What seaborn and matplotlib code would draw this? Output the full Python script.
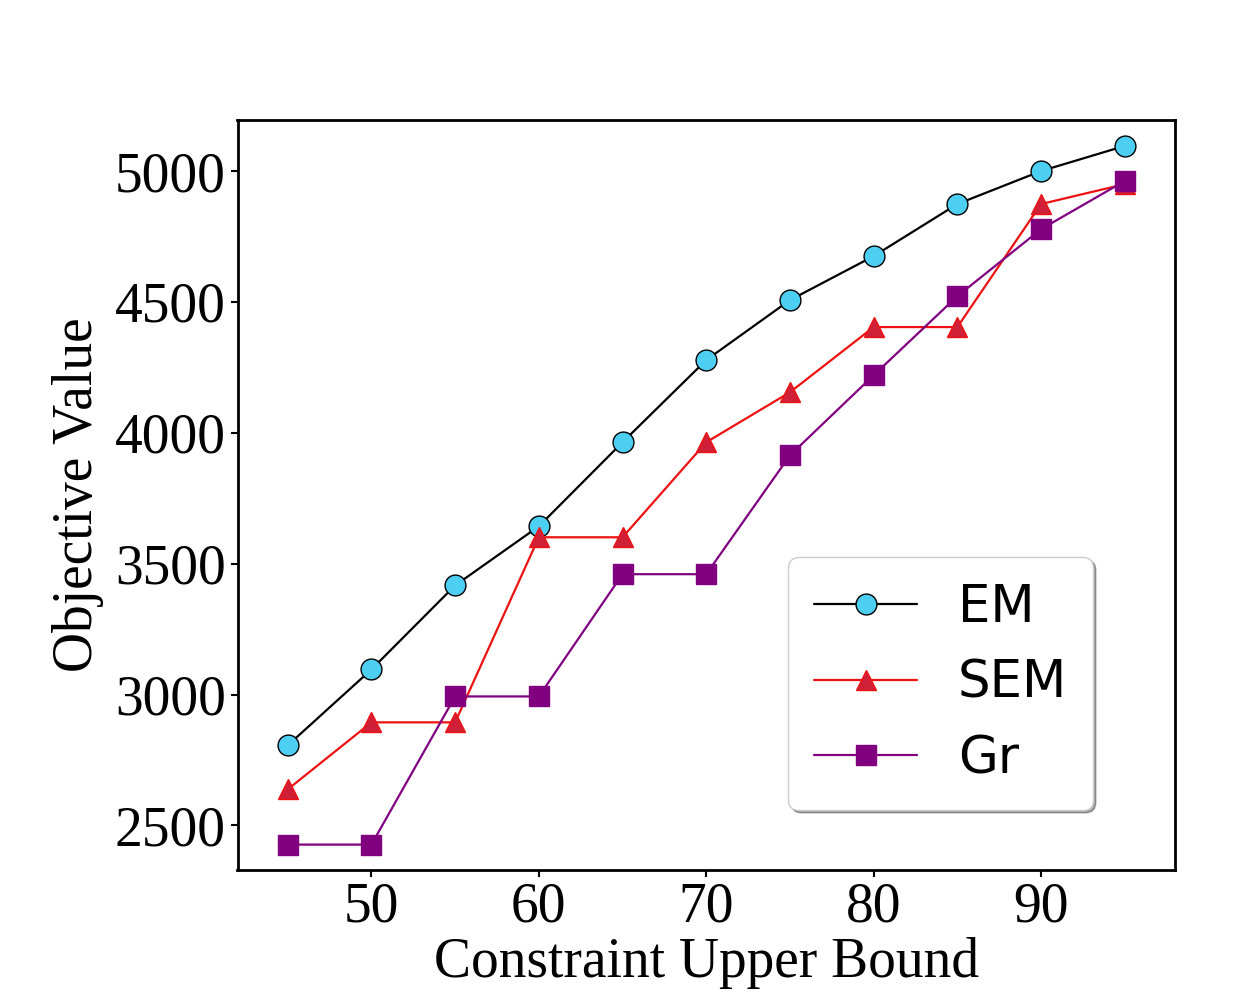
import matplotlib
matplotlib.use('Agg')
import matplotlib.pyplot as plt
import pandas as pd
import seaborn as sns

# data
bounds = [45, 50, 55, 60, 65, 70, 75, 80, 85, 90, 95]
em = [2806, 3096, 3417, 3643, 3964, 4278, 4507, 4675, 4874, 5000, 5096]
sem = [2638, 2894, 2894, 3601, 3601, 3964, 4155, 4404, 4404, 4874, 4950]
gr = [2427, 2427, 2993, 2993, 3460, 3460, 3914, 4220, 4522, 4778, 4962]

df = pd.DataFrame({'bound': bounds, 'EM': em, 'SEM': sem, 'Gr': gr})

sns.set_style('ticks')
plt.rcParams['font.family'] = ['Liberation Serif', 'DejaVu Serif']
plt.rcParams['text.color'] = 'black'
plt.rcParams['axes.labelcolor'] = 'black'
plt.rcParams['xtick.color'] = 'black'
plt.rcParams['ytick.color'] = 'black'

fig, ax = plt.subplots(figsize=(12.5, 10), dpi=100)
fig.subplots_adjust(left=0.19, right=0.94, top=0.88, bottom=0.13)

sns.lineplot(data=df, x='bound', y='EM', ax=ax, color='black', linewidth=1.6,
             marker='o', markersize=15, markerfacecolor='#4dcff4',
             markeredgecolor='black', markeredgewidth=1, label='EM')
sns.lineplot(data=df, x='bound', y='SEM', ax=ax, color='#ee1111', linewidth=1.6,
             marker='^', markersize=15, markerfacecolor='#d02038',
             markeredgecolor='#ee1111', markeredgewidth=1, label='SEM')
sns.lineplot(data=df, x='bound', y='Gr', ax=ax, color='#800080', linewidth=1.6,
             marker='s', markersize=15, markerfacecolor='#800080',
             markeredgecolor='#800080', markeredgewidth=1, label='Gr')

ax.set_xlim(42, 98)
ax.set_ylim(2330, 5195)
ax.set_xticks([50, 60, 70, 80, 90])
ax.set_yticks([2500, 3000, 3500, 4000, 4500, 5000])
ax.tick_params(labelsize=40, width=1.5, length=5, colors='black')
ax.set_xlabel('Constraint Upper Bound', fontsize=40, labelpad=2, color='black')
ax.set_ylabel('Objective Value', fontsize=40, labelpad=8, color='black')
for sp in ax.spines.values():
    sp.set_linewidth(2)
    sp.set_color('black')

leg = ax.legend(loc='lower right', bbox_to_anchor=(0.9125, 0.08), borderaxespad=0,
                fancybox=True, shadow=True, prop={'family': 'DejaVu Sans', 'size': 37},
                borderpad=0.5)
for t in leg.get_texts():
    t.set_color('black')

fig.savefig('out.png', dpi=100)
